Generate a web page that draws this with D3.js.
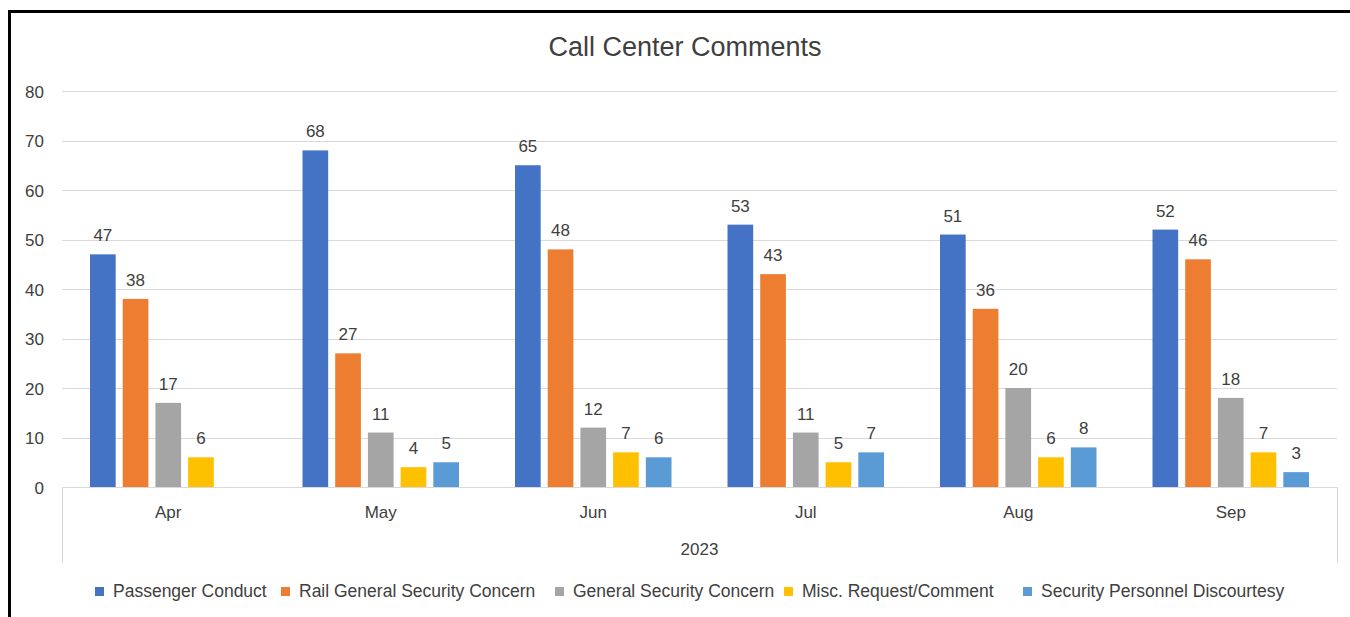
<!DOCTYPE html>
<html>
<head>
<meta charset="utf-8">
<script src="https://cdn.jsdelivr.net/npm/d3@7"></script>
<style>
  html, body { margin: 0; padding: 0; background: #fff; }
  svg { display: block; }
  text { font-family: "Liberation Sans", Arial, sans-serif; }
</style>
</head>
<body>
<svg id="chart" width="1350" height="617"></svg>
<script>
const title = "Call Center Comments";
const months = ["Apr", "May", "Jun", "Jul", "Aug", "Sep"];
const yearLabel = "2023";
const seriesNames = ["Passenger Conduct", "Rail General Security Concern", "General Security Concern", "Misc. Request/Comment", "Security Personnel Discourtesy"];
const seriesColors = ["#4472C4", "#ED7D31", "#A5A5A5", "#FFC000", "#5B9BD5"];
const passengerConduct = [47, 68, 65, 53, 51, 52];
const railGeneralSecurity = [38, 27, 48, 43, 36, 46];
const generalSecurity = [17, 11, 12, 11, 20, 18];
const miscRequest = [6, 4, 7, 5, 6, 7];
const securityPersonnel = [null, 5, 6, 7, 8, 3];
const yTicks = [0, 10, 20, 30, 40, 50, 60, 70, 80];

const seriesValues = [passengerConduct, railGeneralSecurity, generalSecurity, miscRequest, securityPersonnel];

const svg = d3.select("#chart");
const W = 1350, H = 617;
const plot = { left: 62, right: 1337, top: 91, bottom: 487 };
const textColor = "#404040";

// frame
svg.append("rect").attr("x", 0).attr("y", 0).attr("width", W).attr("height", H).attr("fill", "#fff");
svg.append("rect").attr("x", 9.5).attr("y", 11.5).attr("width", 1400).attr("height", 700)
  .attr("fill", "none").attr("stroke", "#000").attr("stroke-width", 3);

const x0 = d3.scaleBand().domain(months).range([plot.left, plot.right]).paddingInner(0).paddingOuter(0);
const x1 = d3.scaleBand().domain(d3.range(seriesNames.length))
  .range([28, x0.bandwidth() - 28]).paddingInner(0.215).paddingOuter(0);
const y = d3.scaleLinear().domain([0, 80]).range([plot.bottom, plot.top]);

// gridlines
svg.append("g").selectAll("line").data(yTicks.filter(d => d > 0)).join("line")
  .attr("x1", plot.left).attr("x2", plot.right)
  .attr("y1", d => Math.round(y(d)) + 0.5).attr("y2", d => Math.round(y(d)) + 0.5)
  .attr("stroke", "#D9D9D9").attr("stroke-width", 1);

// y axis labels
const yAxis = d3.axisLeft(y).tickValues(yTicks).tickSize(0).tickPadding(0);
const yg = svg.append("g").attr("transform", `translate(44,0)`).call(yAxis);
yg.select(".domain").remove();
yg.selectAll("text").attr("font-size", 17).attr("fill", textColor)
  .attr("font-family", "Liberation Sans, Arial, sans-serif").attr("dy", "0.36em");

// bars
const groups = svg.append("g").selectAll("g").data(months).join("g")
  .attr("transform", d => `translate(${x0(d)},0)`);

groups.each(function(m, mi) {
  const g = d3.select(this);
  const items = seriesValues.map((vals, si) => ({ si, v: vals[mi] })).filter(d => d.v != null);
  g.selectAll("rect").data(items).join("rect")
    .attr("x", d => x1(d.si)).attr("width", x1.bandwidth())
    .attr("y", d => y(d.v)).attr("height", d => y(0) - y(d.v))
    .attr("fill", d => seriesColors[d.si]);
  g.selectAll("text").data(items).join("text")
    .attr("x", d => x1(d.si) + x1.bandwidth() / 2)
    .attr("y", d => y(d.v) - 13)
    .attr("text-anchor", "middle").attr("font-size", 17).attr("fill", textColor)
    .text(d => d.v);
});

// x axis line and category axis boxes
svg.append("line").attr("x1", plot.left).attr("x2", plot.right)
  .attr("y1", plot.bottom + 0.5).attr("y2", plot.bottom + 0.5)
  .attr("stroke", "#D9D9D9").attr("stroke-width", 1);
[plot.left, plot.right].forEach(xx => {
  svg.append("line").attr("x1", xx + 0.5).attr("x2", xx + 0.5)
    .attr("y1", plot.bottom).attr("y2", 563)
    .attr("stroke", "#D9D9D9").attr("stroke-width", 1);
});

const xAxis = d3.axisBottom(x0).tickSize(0).tickPadding(0);
const xg = svg.append("g").attr("transform", `translate(0,${plot.bottom})`).call(xAxis);
xg.select(".domain").remove();
xg.selectAll("text").attr("font-size", 17).attr("fill", textColor)
  .attr("font-family", "Liberation Sans, Arial, sans-serif")
  .attr("dy", null).attr("y", 31);

svg.append("text").attr("x", (plot.left + plot.right) / 2).attr("y", 555)
  .attr("text-anchor", "middle").attr("font-size", 17).attr("fill", textColor).text(yearLabel);

// title
svg.append("text").attr("x", 685).attr("y", 56).attr("text-anchor", "middle")
  .attr("font-size", 27).attr("fill", textColor).text(title);

// legend
const legendStarts = [95, 281, 555, 784, 1023];
const legend = svg.append("g");
const itemGroups = legend.selectAll("g").data(seriesNames).join("g")
  .attr("transform", (d, i) => `translate(${legendStarts[i]},0)`);
itemGroups.append("rect").attr("width", 9).attr("height", 9).attr("y", 587)
  .attr("fill", (d, i) => seriesColors[i]);
itemGroups.append("text").attr("x", 18).attr("y", 597).attr("font-size", 17.5)
  .attr("fill", textColor).text(d => d);
</script>
</body>
</html>
